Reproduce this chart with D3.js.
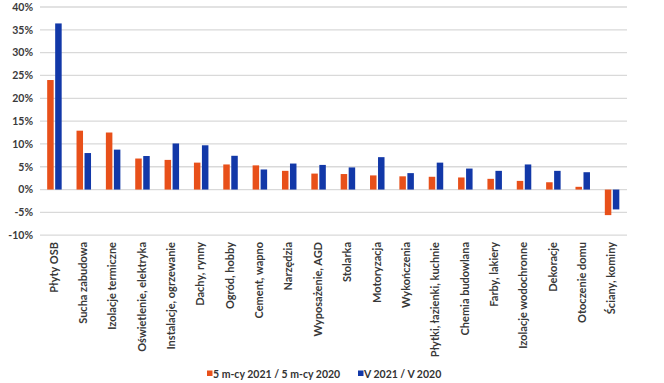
<!DOCTYPE html>
<html><head><meta charset="utf-8">
<script src="https://cdn.jsdelivr.net/npm/d3@7"></script>
<style>body{margin:0;background:#fff;}svg{display:block;}</style>
</head><body>
<svg id="c" width="664" height="383"></svg>
<script>
const categories = ["Płyty OSB","Sucha zabudowa","Izolacje termiczne","Oświetlenie, elektryka","Instalacje, ogrzewanie","Dachy, rynny","Ogród, hobby","Cement, wapno","Narzędzia","Wyposażenie, AGD","Stolarka","Motoryzacja","Wykończenia","Płytki, łazienki, kuchnie","Chemia budowlana","Farby, lakiery","Izolacje wodochronne","Dekoracje","Otoczenie domu","Ściany, kominy"];
const series5m = [24.0,12.9,12.5,6.8,6.5,5.9,5.5,5.3,4.1,3.5,3.4,3.1,2.9,2.8,2.65,2.35,1.9,1.6,0.6,-5.6];
const seriesV = [36.4,8.0,8.75,7.35,10.1,9.7,7.4,4.4,5.7,5.4,4.85,7.1,3.6,5.9,4.6,4.1,5.5,4.1,3.8,-4.35];
const seriesNames = ["5 m-cy 2021 / 5 m-cy 2020","V 2021 / V 2020"];
const yTicks = [-10,-5,0,5,10,15,20,25,30,35,40];
const colors = ["#E8501A","#1238A8"];

const svg = d3.select("#c");
const x = d3.scaleBand().domain(categories).range([40,627]);
const y = d3.scaleLinear().domain([-10,40]).range([235.2,7]);
const font = "Lato, 'Liberation Sans', sans-serif";

svg.append("g").selectAll("line").data(yTicks).join("line")
  .attr("x1",40).attr("x2",627).attr("y1",d=>y(d)).attr("y2",d=>y(d))
  .attr("stroke","#d9d9d9").attr("stroke-width",1.3);

svg.append("g").selectAll("text").data(yTicks).join("text")
  .attr("x",33).attr("y",d=>y(d)+3.8).attr("text-anchor","end")
  .attr("font-family",font).attr("font-weight",700).attr("font-size",10.5).attr("fill","#3a3a3a")
  .text(d=>d+"%");

const bw = 6.5;
const g = svg.append("g");
categories.forEach((c,i)=>{
  const cx = x(c)+x.bandwidth()/2;
  [series5m[i],seriesV[i]].forEach((v,j)=>{
    const x0 = j===0 ? cx-bw-1 : cx+0.5;
    g.append("rect").attr("x",x0).attr("width",bw)
      .attr("y",y(Math.max(0,v))).attr("height",Math.abs(y(v)-y(0)))
      .attr("fill",colors[j]);
  });
});

svg.append("g").selectAll("text").data(categories).join("text")
  .attr("transform",d=>`translate(${x(d)+x.bandwidth()/2+3},242) rotate(-90)`)
  .attr("text-anchor","end")
  .attr("font-family",font).attr("font-weight",700).attr("font-size",11).attr("fill","#383838")
  .text(d=>d);

const leg = svg.append("g");
const legX = [207,358];
seriesNames.forEach((n,j)=>{
  leg.append("rect").attr("x",legX[j]).attr("y",370.5).attr("width",5.5).attr("height",5.5).attr("fill",colors[j]);
  leg.append("text").attr("x",legX[j]+6).attr("y",377.5)
    .attr("font-family",font).attr("font-weight",700).attr("font-size",10.5).attr("fill","#333").text(n);
});
</script>
</body></html>
